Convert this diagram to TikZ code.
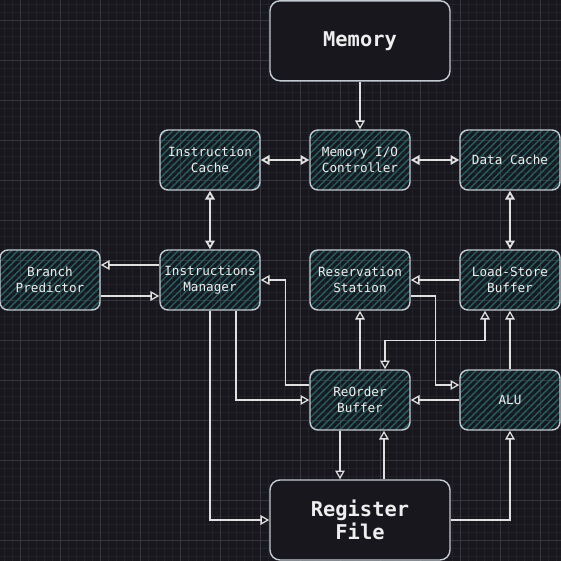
\documentclass[tikz,border=0pt]{standalone}
\usepackage{fontspec}
\usepackage{tikz}
\usetikzlibrary{arrows.meta, positioning, patterns.meta}
\newfontfamily\codefont{DejaVu Sans Mono}
\definecolor{canvas}{HTML}{18171E}
\definecolor{gridmajor}{HTML}{37363D}
\definecolor{gridminor}{HTML}{232229}
\definecolor{edge}{HTML}{C3CBD3}
\definecolor{hatch}{HTML}{1F6064}
\definecolor{wire}{HTML}{E0E0E0}
\definecolor{label}{HTML}{EEEEEE}
\tikzstyle{unit} = [rectangle, rounded corners=0.2cm, minimum width=2.5cm, minimum height=1.5cm, inner sep=2pt, text centered, align=center, draw=edge, line width=1pt, pattern={Lines[angle=45, distance=3.5pt, line width=1pt]}, pattern color=hatch, text=label, font=\codefont\fontsize{9}{11.7}\selectfont]
\tikzstyle{bigunit} = [rectangle, rounded corners=0.25cm, minimum width=4.5cm, minimum height=2cm, inner sep=2pt, text centered, align=center, draw=edge, line width=1pt, fill=canvas, text=label, font=\codefont\bfseries\fontsize{14.5}{16.4}\selectfont]
\tikzstyle{link} = [draw=wire, line width=0.9pt]
\tikzstyle{duplex} = [draw=wire, line width=1.3pt]

\begin{document}
\begin{tikzpicture}[node distance=3cm, >={Triangle[open, length=2.2mm, width=2.4mm]}]
\fill[canvas] (0,0) rectangle (14.025,-14.025);
\useasboundingbox (0,0) rectangle (14.025,-14.025);
\begin{scope}[shift={(0.5,-0.5)}]
\draw[gridminor, line width=0.4pt, step=0.2cm] (-0.5,0.5) grid (13.525,-13.525);
\draw[gridmajor, line width=0.5pt, step=1cm] (-0.5,0.5) grid (13.525,-13.525);
\end{scope}
\node (mem) [bigunit] at (9,-1.02) {Memory};
\node (mio) [unit, below of=mem, yshift=0.02cm] {Memory I/O\\Controller};
\node (icache) [unit, left of=mio, xshift=-0.75cm] {Instruction\\Cache};
\node (dcache) [unit, right of=mio, xshift=0.75cm] {Data Cache};
\node (imgr) [unit, below of=icache] {Instructions\\Manager};
\node (bpred) [unit, left of=imgr, xshift=-1cm] {Branch\\Predictor};
\node (rstat) [unit, below of=mio] {Reservation\\Station};
\node (lsb) [unit, below of=dcache] {Load-Store\\Buffer};
\node (rob) [unit, below of=rstat] {ReOrder\\Buffer};
\node (alu) [unit, below of=lsb] {ALU};
\node (regf) [bigunit, below of=rob] {Register\\File};
\draw [link, ->] (mem) -- (mio);
\draw [duplex, <->] (icache) -- (mio);
\draw [duplex, <->] (mio) -- (dcache);
\draw [duplex, <->] (icache) -- (imgr);
\draw [duplex, <->] (dcache) -- (lsb);
\draw [link, ->] ([yshift=0.375cm]imgr.west) -- ([yshift=0.375cm]bpred.east);
\draw [link, ->] ([yshift=-0.4cm]bpred.east) -- ([yshift=-0.4cm]imgr.west);
\draw [link, ->] (lsb) -- (rstat);
\draw [link, ->] ([yshift=0.375cm]rob.west) -| ([xshift=0.625cm]imgr.east) -- (imgr.east);
\draw [link, ->] ([xshift=0.65cm]imgr.south) |- (rob.west);
\draw [link, ->] (imgr.south) |- (regf.west);
\draw [link, ->] (rob) -- (rstat);
\draw [link, <->] ([xshift=-0.625cm]lsb.south) -- ++(0,-0.75) -| ([xshift=0.625cm]rob.north);
\draw [link, ->] (alu) -- (lsb);
\draw [link, ->] ([yshift=-0.4cm]rstat.east) -- ++(0.625,0) |- ([yshift=0.375cm]alu.west);
\draw [link, ->] (alu) -- (rob);
\draw [link, ->] ([xshift=-0.5cm]rob.south) -- ([xshift=-0.5cm]regf.north);
\draw [link, ->] ([xshift=0.6cm]regf.north) -- ([xshift=0.6cm]rob.south);
\draw [link, ->] (regf.east) -| (alu.south);
\end{tikzpicture}
\end{document}
